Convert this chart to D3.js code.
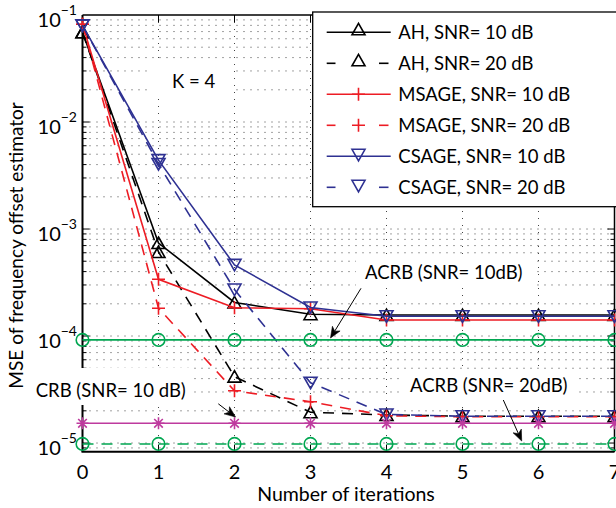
<!DOCTYPE html>
<html>
<head>
<meta charset="utf-8">
<script src="https://cdn.jsdelivr.net/npm/d3@7"></script>
<style>
  html, body { margin: 0; padding: 0; background: #fff; }
  svg { display: block; }
  text { font-family: Lato, "Open Sans", sans-serif; fill: #000; }
</style>
</head>
<body>
<script>
// ---------------- data ----------------
const iterations = [0, 1, 2, 3, 4, 5, 6, 7];
const ahSnr10    = [0.069, 7.4e-4, 2.06e-4, 1.6e-4, 1.57e-4, 1.57e-4, 1.57e-4, 1.57e-4];
const ahSnr20    = [0.069, 6.1e-4, 4.17e-5, 1.94e-5, 1.83e-5, 1.78e-5, 1.78e-5, 1.78e-5];
const msageSnr10 = [0.082, 3.39e-4, 1.84e-4, 1.8e-4, 1.41e-4, 1.41e-4, 1.41e-4, 1.41e-4];
const msageSnr20 = [0.082, 1.82e-4, 3.08e-5, 2.43e-5, 1.8e-5, 1.76e-5, 1.76e-5, 1.76e-5];
const csageSnr10 = [0.08, 4.4e-3, 4.62e-4, 1.85e-4, 1.53e-4, 1.53e-4, 1.53e-4, 1.53e-4];
const csageSnr20 = [0.08, 4.05e-3, 2.72e-4, 3.66e-5, 1.85e-5, 1.78e-5, 1.78e-5, 1.78e-5];
const acrbSnr10  = [9.2e-5, 9.2e-5, 9.2e-5, 9.2e-5, 9.2e-5, 9.2e-5, 9.2e-5, 9.2e-5];
const acrbSnr20  = [9.8e-6, 9.8e-6, 9.8e-6, 9.8e-6, 9.8e-6, 9.8e-6, 9.8e-6, 9.8e-6];
const crbSnr10   = [1.53e-5, 1.53e-5, 1.53e-5, 1.53e-5, 1.53e-5, 1.53e-5, 1.53e-5, 1.53e-5];
const xTicks = [0, 1, 2, 3, 4, 5, 6, 7];
const yTickExps = [-1, -2, -3, -4, -5];
const legendLabels = ["AH, SNR= 10 dB", "AH, SNR= 20 dB", "MSAGE, SNR= 10 dB",
                      "MSAGE, SNR= 20 dB", "CSAGE, SNR= 10 dB", "CSAGE, SNR= 20 dB"];

const RED = "#ED1C24", BLUE = "#2E3192", GREEN = "#00A651", MAG = "#BE3A9E";

const series = [
  { values: ahSnr10,    color: "#000", dashed: false, marker: "up",    legend: 0 },
  { values: ahSnr20,    color: "#000", dashed: true,  marker: "up",    legend: 1 },
  { values: msageSnr10, color: RED,    dashed: false, marker: "plus",  legend: 2 },
  { values: msageSnr20, color: RED,    dashed: true,  marker: "plus",  legend: 3 },
  { values: csageSnr10, color: BLUE,   dashed: false, marker: "down",  legend: 4 },
  { values: csageSnr20, color: BLUE,   dashed: true,  marker: "down",  legend: 5 },
  { values: acrbSnr10,  color: GREEN,  dashed: false, marker: "circle" },
  { values: acrbSnr20,  color: GREEN,  dashed: true,  marker: "circle" },
  { values: crbSnr10,   color: MAG,    dashed: false, marker: "star" }
];

// ---------------- layout ----------------
const W = 616, H = 508;
const x = d3.scaleLinear().domain([0, 7]).range([82.5, 614.5]);
const y = d3.scaleLog().domain([Math.pow(10, -5.081), 0.1]).range([451.7, 15]);
const FS = 18.5;

const svg = d3.select("body").append("svg").attr("width", W).attr("height", H);

// grid
const grid = svg.append("g").attr("stroke", "#444").attr("stroke-width", 1)
  .attr("stroke-dasharray", "1,6").attr("fill", "none");
for (let i = 1; i <= 6; i++) {
  grid.append("line").attr("x1", x(i)).attr("x2", x(i)).attr("y1", y.range()[1]).attr("y2", y.range()[0]);
}
const yMinor = [];
for (let e = -6; e <= -2; e++) for (let k = 1; k <= 9; k++) {
  const v = k * Math.pow(10, e);
  if (v > y.domain()[0] && v < y.domain()[1]) yMinor.push(v);
}
yMinor.forEach(v => grid.append("line").attr("x1", x(0)).attr("x2", x(7)).attr("y1", y(v)).attr("y2", y(v)));

// axes frame and ticks
const ax = svg.append("g").attr("stroke", "#000").attr("fill", "none");
ax.append("line").attr("x1", x(0)).attr("x2", x(0)).attr("y1", 15).attr("y2", 451.7).attr("stroke-width", 2);
ax.append("line").attr("x1", x(0) - 1).attr("x2", x(7)).attr("y1", 451.7).attr("y2", 451.7).attr("stroke-width", 2);
ax.append("line").attr("x1", x(0)).attr("x2", x(7)).attr("y1", 15).attr("y2", 15).attr("stroke-width", 1.5);
ax.append("line").attr("x1", x(7)).attr("x2", x(7)).attr("y1", 15).attr("y2", 451.7).attr("stroke-width", 1.5);
yMinor.forEach(v => {
  const major = Math.abs(Math.log10(v) - Math.round(Math.log10(v))) < 1e-9;
  const L = major ? 7 : 4;
  ax.append("line").attr("x1", x(0)).attr("x2", x(0) + L).attr("y1", y(v)).attr("y2", y(v));
  ax.append("line").attr("x1", x(7)).attr("x2", x(7) - L).attr("y1", y(v)).attr("y2", y(v));
});
xTicks.forEach(t => {
  ax.append("line").attr("x1", x(t)).attr("x2", x(t)).attr("y1", 451.7).attr("y2", 444.7);
  ax.append("line").attr("x1", x(t)).attr("x2", x(t)).attr("y1", 15).attr("y2", 22);
});

// tick labels
xTicks.forEach(t => {
  svg.append("text").attr("x", x(t)).attr("y", 479).attr("text-anchor", "middle")
    .attr("font-size", 20).text(t);
});
yTickExps.forEach(e => {
  const t = svg.append("text").attr("x", 77).attr("y", y(Math.pow(10, e)) + 11.5)
    .attr("text-anchor", "end").attr("font-size", 20);
  t.append("tspan").text("10");
  t.append("tspan").attr("dy", -12).attr("font-size", 14).text("\u2212" + Math.abs(e));
});

// axis labels
svg.append("text").attr("x", 346).attr("y", 501).attr("text-anchor", "middle")
  .attr("font-size", 19.5).text("Number of iterations");
svg.append("text").attr("transform", "translate(23,245.5) rotate(-90)")
  .attr("text-anchor", "middle").attr("font-size", 19).text("MSE of frequency offset estimator");

// markers
function markerPath(type) {
  const p = d3.path();
  if (type === "up") { p.moveTo(0, -6); p.lineTo(6.5, 5.5); p.lineTo(-6.5, 5.5); p.closePath(); }
  else if (type === "down") { p.moveTo(0, 6); p.lineTo(6.5, -5.5); p.lineTo(-6.5, -5.5); p.closePath(); }
  else if (type === "plus") { p.moveTo(-6.5, 0); p.lineTo(6.5, 0); p.moveTo(0, -6.5); p.lineTo(0, 6.5); }
  else if (type === "star") {
    p.moveTo(-6, 0); p.lineTo(6, 0); p.moveTo(0, -6); p.lineTo(0, 6);
    p.moveTo(-4.3, -4.3); p.lineTo(4.3, 4.3); p.moveTo(-4.3, 4.3); p.lineTo(4.3, -4.3);
  }
  else if (type === "circle") { p.arc(0, 0, 6.3, 0, 2 * Math.PI); }
  return p.toString();
}

// data lines
const line = d3.line().x((d, i) => x(iterations[i])).y(d => y(d));
const dataG = svg.append("g");
series.forEach(s => {
  const g = dataG.append("g");
  g.append("path").attr("d", line(s.values)).attr("fill", "none")
    .attr("stroke", s.color).attr("stroke-width", 1.6)
    .attr("stroke-dasharray", s.dashed ? "11,8" : null);
  s.values.forEach((v, i) => {
    g.append("path").attr("d", markerPath(s.marker))
      .attr("transform", `translate(${x(iterations[i])},${y(v)})`)
      .attr("fill", "none").attr("stroke", s.color).attr("stroke-width", 1.6);
  });
});

// annotations with white background
function note(txt, tx, ty, box) {
  svg.append("rect").attr("x", box[0]).attr("y", box[1]).attr("width", box[2]).attr("height", box[3]).attr("fill", "#fff");
  svg.append("text").attr("x", tx).attr("y", ty).attr("font-size", FS).text(txt);
}
note("K = 4", 172, 88, [152, 64, 80, 34]);
note("ACRB (SNR= 10dB)", 365, 279, [356, 258, 178, 30]);
note("ACRB (SNR= 20dB)", 410, 391.7, [401, 371, 178, 30]);
note("CRB (SNR= 10 dB)", 35.7, 396.7, [28, 368, 165, 37]);

function arrow(x1, y1, x2, y2) {
  const g = svg.append("g");
  const ang = Math.atan2(y2 - y1, x2 - x1);
  const L = 11, Wd = 4.5;
  const bx = x2 - L * Math.cos(ang), by = y2 - L * Math.sin(ang);
  g.append("line").attr("x1", x1).attr("y1", y1).attr("x2", bx + 3 * Math.cos(ang)).attr("y2", by + 3 * Math.sin(ang))
    .attr("stroke", "#000").attr("stroke-width", 1);
  const px = -Math.sin(ang), py = Math.cos(ang);
  const nx = x2 - (L - 3) * Math.cos(ang), ny = y2 - (L - 3) * Math.sin(ang);
  g.append("path").attr("d",
    `M${x2},${y2} L${bx + Wd * px},${by + Wd * py} L${nx},${ny} L${bx - Wd * px},${by - Wd * py} Z`)
    .attr("fill", "#000").attr("stroke", "#000").attr("stroke-width", 0.6);
}
arrow(361, 288.3, 330.5, 338);
arrow(503.3, 400, 521.7, 441);
arrow(218.3, 403.8, 235.5, 417);

// legend
const lg = svg.append("g");
lg.append("rect").attr("x", 312.7).attr("y", 12).attr("width", 330).attr("height", 194.7)
  .attr("fill", "#fff").attr("stroke", "#000").attr("stroke-width", 1.3);
series.filter(s => s.legend !== undefined).forEach(s => {
  const ly = 32.3 + 31 * s.legend;
  if (s.dashed) {
    lg.append("line").attr("x1", 326.7).attr("x2", 335.5).attr("y1", ly).attr("y2", ly).attr("stroke", s.color).attr("stroke-width", 1.6);
    lg.append("line").attr("x1", 379).attr("x2", 388.5).attr("y1", ly).attr("y2", ly).attr("stroke", s.color).attr("stroke-width", 1.6);
  } else {
    lg.append("line").attr("x1", 326.7).attr("x2", 390.7).attr("y1", ly).attr("y2", ly).attr("stroke", s.color).attr("stroke-width", 1.6);
  }
  lg.append("path").attr("d", markerPath(s.marker)).attr("transform", `translate(358.5,${ly - (s.marker === "up" ? 3 : (s.marker === "down" ? 1.5 : 0))})`)
    .attr("fill", "none").attr("stroke", s.color).attr("stroke-width", 1.6);
  lg.append("text").attr("x", 398.3).attr("y", ly + 6.6).attr("font-size", FS).text(legendLabels[s.legend]);
});
</script>
</body>
</html>
